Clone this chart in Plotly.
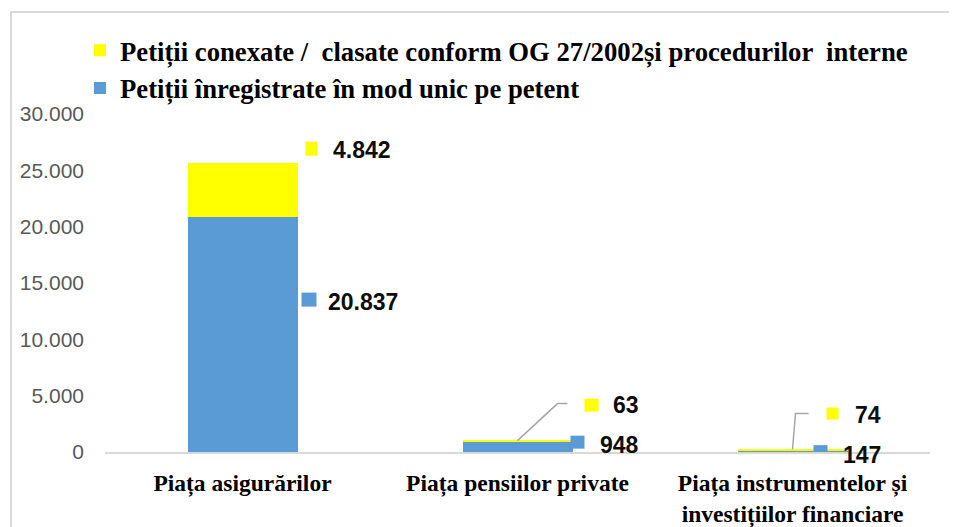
import plotly.graph_objects as go

# ---- data ----
categories = ["Piața asigurărilor", "Piața pensiilor private",
              "Piața instrumentelor și<br>investițiilor financiare"]
blue_name = "Petiții înregistrate în mod unic pe petent"
yellow_name = "Petiții conexate /  clasate conform OG 27/2002și procedurilor  interne"
blue_values = [20837, 948, 147]
yellow_values = [4842, 63, 74]
y_tick_values = [0, 5000, 10000, 15000, 20000, 25000, 30000]

BLUE = "#5B9BD5"
YELLOW = "#FFFF00"

def fmt(v):
    return f"{v:,}".replace(",", ".")

fig = go.Figure()
fig.add_trace(go.Bar(x=categories, y=blue_values, name="<b>" + blue_name + "</b>",
                     marker=dict(color=BLUE, line=dict(width=0)), width=0.4,
                     legendgroup="b"))
fig.add_trace(go.Bar(x=categories, y=yellow_values, name="<b>" + yellow_name + "</b>",
                     marker=dict(color=YELLOW, line=dict(width=0)), width=0.4,
                     legendgroup="y"))

# label styling (pixel offsets relative to the bar centre / value anchor)
yellow_style = [  # square x0,x1,y0,y1 ; text xshift,yshift ; leader path
    ((63, 75, 7, 21), (88, 13), None),
    ((67, 81, 29, 42), (93, 36), "M0,0 L40,37 L50,37"),
    ((34, 46, 30, 42), (60, 35), "M0,0 L3,36 L16,36"),
]
blue_style = [
    ((59, 74, 28, 42), (83, 33)),
    ((53, 67, -2, 11), (80, 2)),
    ((21, 35, -7, 6), (48, -4)),
]

shapes = []
annotations = []
label_font = dict(family="Liberation Sans", size=23, color="#0d0d0d")
for i, cat in enumerate(categories):
    total = blue_values[i] + yellow_values[i]
    mid_blue = blue_values[i] / 2
    (sx0, sx1, sy0, sy1), (tx, ty), leader = yellow_style[i]
    shapes.append(dict(type="rect", xref="x", yref="y", xsizemode="pixel", ysizemode="pixel",
                       xanchor=cat, yanchor=total, x0=sx0, x1=sx1, y0=sy0, y1=sy1,
                       fillcolor=YELLOW, line=dict(width=0)))
    annotations.append(dict(x=cat, y=total, xref="x", yref="y", text="<b>" + fmt(yellow_values[i]) + "</b>",
                            showarrow=False, xanchor="left", yanchor="middle",
                            xshift=tx, yshift=ty, font=label_font))
    if leader:
        shapes.append(dict(type="path", xref="x", yref="y", xsizemode="pixel", ysizemode="pixel",
                           xanchor=cat, yanchor=total, path=leader,
                           line=dict(color="#A6A6A6", width=1.5)))
    (sx0, sx1, sy0, sy1), (tx, ty) = blue_style[i]
    shapes.append(dict(type="rect", xref="x", yref="y", xsizemode="pixel", ysizemode="pixel",
                       xanchor=cat, yanchor=mid_blue, x0=sx0, x1=sx1, y0=sy0, y1=sy1,
                       fillcolor=BLUE, line=dict(width=0)))
    annotations.append(dict(x=cat, y=mid_blue, xref="x", yref="y", text="<b>" + fmt(blue_values[i]) + "</b>",
                            showarrow=False, xanchor="left", yanchor="middle",
                            xshift=tx, yshift=ty, font=label_font))

# chart border
shapes.append(dict(type="rect", xref="paper", yref="paper",
                   x0=(11 - 105) / 825, x1=1.2, y0=-0.5, y1=(452 - 12) / 338,
                   line=dict(color="#D9D9D9", width=2), fillcolor="rgba(0,0,0,0)", layer="below"))

fig.update_layout(
    width=957, height=527,
    margin=dict(l=97, r=35, t=106, b=83, autoexpand=False),
    paper_bgcolor="white", plot_bgcolor="white",
    barmode="stack",
    separators=",.",
    showlegend=True,
    legend=dict(traceorder="reversed", orientation="v",
                xref="container", yref="container", x=72 / 957, y=1 - 18.5 / 527,
                xanchor="left", yanchor="top", tracegroupgap=0,
                font=dict(family="Liberation Serif", size=26.7, color="#000000"),
                bgcolor="rgba(0,0,0,0)"),
    xaxis=dict(showgrid=False, showline=True, linecolor="#D9D9D9", linewidth=2,
               ticks="", tickfont=dict(family="Liberation Serif", size=23.5, color="#000000"),
               range=[-0.5, 2.5], tickangle=0, ticklabelstandoff=9,
               tickvals=categories, ticktext=["<b>" + c + "</b>" for c in categories]),
    yaxis=dict(range=[0, 30000], tickvals=y_tick_values, tickformat=",.0f",
               showgrid=False, showline=False, zeroline=False, ticks="",
               ticklabelstandoff=20,
               tickfont=dict(family="Liberation Sans", size=21, color="#595959")),
    shapes=shapes,
    annotations=annotations,
)

fig.write_html("out.html")
